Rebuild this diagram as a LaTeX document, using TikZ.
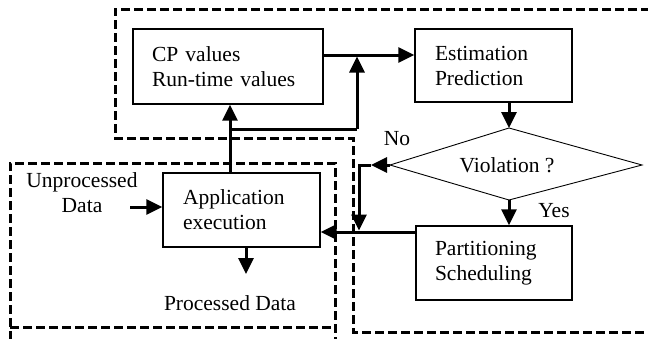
\documentclass[tikz,border=0pt]{standalone}
\usepackage{fontspec}
\setmainfont{Liberation Serif}
\usetikzlibrary{arrows.meta}
\begin{document}
\begin{tikzpicture}[x=1pt,y=-1pt,
  box/.style={draw,line width=1.3pt,rectangle,align=left,inner ysep=0pt,
    font=\fontsize{21.5}{25}\selectfont},
  lbl/.style={inner sep=0pt,font=\fontsize{21.5}{25}\selectfont},
  arr/.style={line width=3pt,-{Triangle[length=16pt,width=15pt]}},
  thk/.style={line width=3pt},
  region/.style={line width=3pt,dash pattern=on 9pt off 4pt}]
\useasboundingbox (0,0) rectangle (648,338);
% dashed regions
\draw[region] (650,9) -- (115,9) -- (115,138) -- (353,138) -- (353,332) -- (650,332);
\draw[region] (10,340) -- (10,163) -- (335,163) -- (335,340);
\draw[region] (10,327) -- (335,327);
% boxes
\node[box,minimum width=190pt,minimum height=75pt,text width=152pt,inner xsep=19pt] (cp) at (228,66.5) {CP values\\Run-time values};
\node[box,minimum width=157pt,minimum height=73pt,text width=117pt,inner xsep=20pt] (est) at (493.5,65.5) {Estimation\\Prediction};
\node[box,minimum width=157pt,minimum height=74pt,text width=117pt,inner xsep=20pt] (app) at (241.5,210) {Application\\execution};
\node[box,minimum width=156pt,minimum height=74pt,text width=118pt,inner xsep=19pt] (part) at (494,263) {Partitioning\\Scheduling};
% diamond
\coordinate (dt) at (509,128);
\coordinate (dl) at (390,165);
\coordinate (dr) at (642,165);
\coordinate (db) at (509,200);
\draw[line width=0.9pt] (dt) -- (dr) -- (db) -- (dl) -- cycle;
\node[lbl] (viol) at (507,165) {Violation ?};
% labels
\node[lbl] (no) at (397,139) {No};
\node[lbl] (yes) at (554,211) {Yes};
\node[lbl,align=center] (unp) at (82,193) {Unprocessed\\Data};
\node[lbl] (proc) at (230,303) {Processed Data};
% junction coordinates
\coordinate (j1) at (230,129);
\coordinate (j2) at (357,129);
\coordinate (j3) at (359,232);
\coordinate (n1) at (371,165);
\coordinate (a1) at (357,55);
\coordinate (u1) at (130,207);
\coordinate (p1) at (246,274);
% connectors
\draw[arr] (cp.east |- a1) -- (est.west |- a1);
\draw[arr] (app.north -| j1) -- (cp.south -| j1);
\draw[thk] (j1) -- (j2);
\draw[arr] (j2) -- ([yshift=-1.5pt]a1);
\draw[arr] (est.south -| dt) -- (dt);
\draw[arr] (dl) -- (n1);
\draw[arr] (n1) -- (n1 -| j3) -- ([yshift=1.5pt]j3);
\draw[arr] (db) -- (part.north -| db);
\draw[arr] (part.west |- j3) -- (app.east |- j3);
\draw[arr] (u1) -- (app.west |- u1);
\draw[arr] (app.south -| p1) -- (p1);
\end{tikzpicture}
\end{document}
